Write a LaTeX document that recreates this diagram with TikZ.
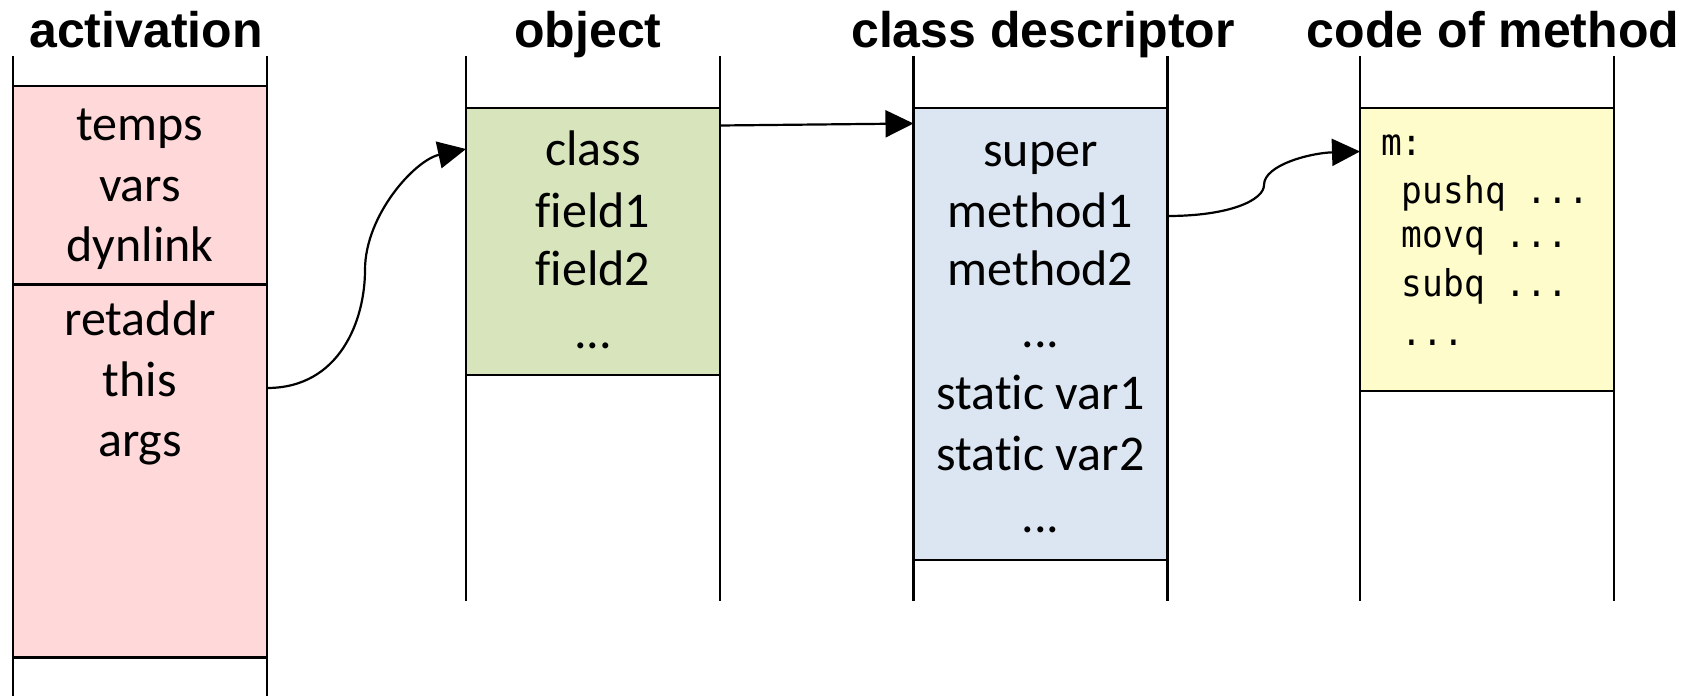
\documentclass[tikz,border=0pt]{standalone}
\usepackage{fontspec}
\setmainfont{Carlito}[Ligatures=NoCommon]
\newfontfamily\titlefont{Liberation Sans}
\newfontfamily\codefont{DejaVu Sans Mono}
\usetikzlibrary{arrows.meta}
\definecolor{actfill}{RGB}{255,217,217}
\definecolor{objfill}{RGB}{216,228,188}
\definecolor{clsfill}{RGB}{220,230,242}
\definecolor{codefill}{RGB}{255,252,204}
\newcommand{\codeline}[1]{\scalebox{1}[1.07]{#1}}
\begin{document}
\begin{tikzpicture}[x=1pt,y=-1pt,
  lw/.style={line width=2.2pt},
  boxstyle/.style={draw=black, line width=2.2pt, inner sep=0pt, outer sep=0pt, anchor=north west, minimum width=254pt},
  title/.style={font=\fontsize{50}{60}\selectfont\titlefont\bfseries, anchor=base, inner sep=0pt},
  cell/.style={font=\fontsize{50}{60}\selectfont, anchor=base, inner sep=0pt},
  code/.style={font=\fontsize{34.5}{40}\selectfont\codefont, anchor=base west, inner sep=0pt},
  ptr/.style={line width=2.2pt, -{Triangle[length=28pt,width=27pt]}},
]
\useasboundingbox (0,0) rectangle (1690,696);

% boxes
\node[boxstyle, fill=actfill, minimum height=571.5pt] (act) at (13,86) {};
\node[boxstyle, fill=objfill, minimum height=267pt] (obj) at (466,108) {};
\node[boxstyle, fill=clsfill, minimum height=452pt] (cls) at (913.5,108) {};
\node[boxstyle, fill=codefill, minimum height=283pt] (cod) at (1360,108) {};
\draw[lw] (13,284.5) -- (267,284.5);

% column lines
\draw[lw] (13,56) -- (13,696);
\draw[lw] (267,56) -- (267,696);
\draw[lw] (466,56) -- (466,601);
\draw[lw] (720,56) -- (720,601);
\draw[lw] (913.5,56) -- (913.5,601);
\draw[lw] (1167.5,56) -- (1167.5,601);
\draw[lw] (1360,56) -- (1360,601);
\draw[lw] (1614,56) -- (1614,601);

% titles
\node[title] (h1) at (146,47.5) {activation};
\node[title] (h2) at (588,47.5) {object};
\node[title] (h3) at (1043,47.5) {class descriptor};
\node[title] (h4) at (1493,47.5) {code of method};

% activation
\node[cell] (a1) at (140,140.7) {temps};
\node[cell] (a2) at (140,201.7) {vars};
\node[cell] (a3) at (140,261.7) {dynlink};
\node[cell] (a4) at (140,335) {retaddr};
\node[cell] (a5) at (140,396) {this};
\node[cell] (a6) at (140,456) {args};

% object
\node[cell] (o1) at (593,165.7) {class};
\node[cell] (o2) at (593,227.7) {field1};
\node[cell] (o3) at (593,285.7) {field2};
\node[cell] (o4) at (593,348.3) {...};

% class descriptor
\node[cell] (c1) at (1040.5,166) {super};
\node[cell] (c2) at (1040.5,227.7) {method1};
\node[cell] (c3) at (1040.5,285.7) {method2};
\node[cell] (c4) at (1040.5,347) {...};
\node[cell] (c5) at (1040.5,409) {static var1};
\node[cell] (c6) at (1040.5,470) {static var2};
\node[cell] (c7) at (1040.5,532) {...};

% code
\node[code] (k1) at (1381,155) {\codeline{m:}};
\node[code] (k2) at (1381,203) {\codeline{\ pushq ...}};
\node[code] (k3) at (1381,247) {\codeline{\ movq ...}};
\node[code] (k4) at (1381,296) {\codeline{\ subq ...}};
\node[code] (k5) at (1381,345) {\codeline{\ ...}};

% connectors
\coordinate (thisout) at (267,388);
\coordinate (objin) at (466,149);
\coordinate (classout) at (720,125.5);
\coordinate (clsin) at (913.5,123.5);
\coordinate (methout) at (1167.5,216);
\coordinate (codein) at (1360,151.5);

\draw[ptr] (thisout) .. controls (340,388) and (365,320) .. (365,270)
  .. controls (365,215) and (415,160) .. (objin);
\draw[ptr] (classout) -- (clsin);
\draw[ptr] (methout) .. controls (1230,216) and (1264,200) .. (1264,185)
  .. controls (1264,165) and (1310,153) .. (codein);
\end{tikzpicture}
\end{document}
